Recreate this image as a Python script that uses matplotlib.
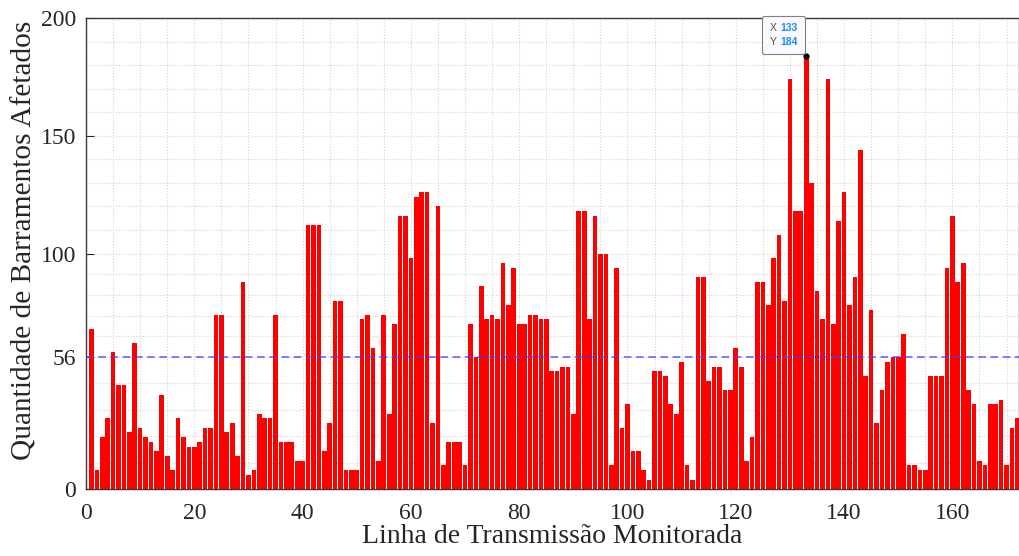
import matplotlib
matplotlib.use("Agg")
import matplotlib.pyplot as plt
from matplotlib.ticker import FixedLocator
from matplotlib.offsetbox import TextArea, HPacker, VPacker, AnnotationBbox

# affected buses per monitored line (lines 1..172)
affected = [68, 8, 22, 30, 58, 44, 44, 24, 62, 26,
            22, 20, 16, 40, 14, 8, 30, 22, 18, 18,
            20, 26, 26, 74, 74, 24, 28, 14, 88, 6,
            8, 32, 30, 30, 74, 20, 20, 20, 12, 12,
            112, 112, 112, 16, 28, 80, 80, 8, 8, 8,
            72, 74, 60, 12, 74, 32, 70, 116, 116, 98,
            124, 126, 126, 28, 120, 10, 20, 20, 20, 10,
            70, 56, 86, 72, 74, 72, 96, 78, 94, 70,
            70, 74, 74, 72, 72, 50, 50, 52, 52, 32,
            118, 118, 72, 116, 100, 100, 10, 94, 26, 36,
            16, 16, 8, 4, 50, 50, 48, 36, 32, 54,
            10, 4, 90, 90, 46, 52, 52, 42, 42, 60,
            52, 12, 22, 88, 88, 78, 98, 108, 80, 174,
            118, 118, 184, 130, 84, 72, 174, 70, 114, 126,
            78, 90, 144, 48, 76, 28, 42, 54, 56, 56,
            66, 10, 10, 8, 8, 48, 48, 48, 94, 116,
            88, 96, 42, 36, 12, 10, 36, 36, 38, 10,
            26, 30]
lines = list(range(1, len(affected) + 1))
mean_level = 56
tip_x, tip_y = 133, 184

y_ticks = [0, 56, 100, 150, 200]
y_minor = [11.2, 22.4, 33.6, 44.8, 64.8, 73.6, 82.4, 91.2,
           110, 120, 130, 140, 160, 170, 180, 190]
x_ticks = [0, 20, 40, 60, 80, 100, 120, 140, 160]

plt.rcParams['font.family'] = ['Liberation Serif', 'DejaVu Serif']

fig = plt.figure(figsize=(10.19, 5.56), dpi=100)
ax = fig.add_axes([86 / 1019, 67 / 556, 933 / 1019, 471 / 556])

ax.bar(lines, affected, width=0.86, color='#ff0000', edgecolor='none', zorder=2)
ax.axhline(mean_level, color='#4040ff', linestyle=(0, (5, 3)), linewidth=1.1,
           alpha=0.85, zorder=3)

ax.set_xlim(0, 172.3)
ax.set_ylim(0, 200)
ax.set_xticks(x_ticks)
ax.set_yticks(y_ticks)
ax.xaxis.set_minor_locator(FixedLocator(list(range(5, 175, 5))))
ax.yaxis.set_minor_locator(FixedLocator(y_minor))
ax.grid(True, which='both', linestyle=':', color='#d4d4d4', linewidth=0.8, zorder=0)
ax.set_axisbelow(True)

ax.tick_params(which='major', direction='in', length=6, width=0.8,
               colors='#262626', labelsize=17)
ax.tick_params(axis='x', which='major', pad=10)
ax.tick_params(axis='y', which='major', pad=7)
ax.tick_params(which='minor', length=0)
for sp in ax.spines.values():
    sp.set_color('#3a3a3a')
    sp.set_linewidth(1.0)

ax.set_xlabel('Linha de Transmissão Monitorada', fontsize=20, color='#262626', labelpad=0)
ax.set_ylabel('Quantidade de Barramentos Afetados', fontsize=21.2, color='#262626')
ax.yaxis.set_label_coords(-0.052, 0.527)

# datatip on the highest bar
ax.plot([tip_x], [tip_y], 'o', color='black', markersize=3.5, zorder=5)
tip_font = dict(family='Liberation Sans', size=7.5)
rows = []
for lab, val in (('X', tip_x), ('Y', tip_y)):
    rows.append(HPacker(children=[
        TextArea(lab, textprops=dict(color='#505050', **tip_font)),
        TextArea(str(val), textprops=dict(color='#1a8cff', weight='bold', **tip_font))],
        align='baseline', pad=0, sep=3))
box = VPacker(children=rows, align='left', pad=0, sep=3)
ab = AnnotationBbox(box, (tip_x, tip_y), xybox=(-6, 6), xycoords='data',
                    boxcoords='offset points', box_alignment=(1, 0), pad=0.45,
                    bboxprops=dict(boxstyle='round,pad=0.5,rounding_size=0.15',
                                   fc='#f9f9ff', ec='#808080', lw=0.8),
                    zorder=6)
ax.add_artist(ab)

fig.savefig('out.png', dpi=100)
